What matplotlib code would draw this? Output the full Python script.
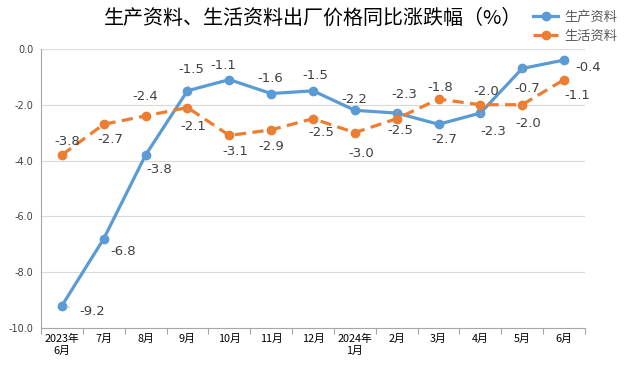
import numpy as np
import matplotlib.pyplot as plt

plt.rcParams['font.family'] = ['DejaVu Sans', 'Noto Sans CJK SC']

# Data
months = ['2023年\n6月', '7月', '8月', '9月', '10月', '11月', '12月',
          '2024年\n1月', '2月', '3月', '4月', '5月', '6月']
production = [-9.2, -6.8, -3.8, -1.5, -1.1, -1.6, -1.5, -2.2, -2.3, -2.7, -2.3, -0.7, -0.4]
living = [-3.8, -2.7, -2.4, -2.1, -3.1, -2.9, -2.5, -3.0, -2.5, -1.8, -2.0, -2.0, -1.1]

# Label offsets in pixels (dx, dy; dy positive = down) and leader-line flags
prod_off = [(30, 6), (19, 13), (14, 15), (4, -21), (-6, -14), (-1, -15), (2, -15),
            (-1, -11), (8, -19), (6, 15), (13, 18), (5, 20), (24, 7)]
prod_lead = [1, 0, 0, 1, 0, 0, 0, 0, 1, 0, 1, 1, 0]
liv_off = [(5, -13), (7, 15), (0, -19), (6, 19), (6, 16), (0, 17), (8, 14),
           (6, 21), (4, 12), (2, -12), (6, -13), (6, 19), (13, 16)]
liv_lead = [0, 0, 0, 1, 0, 1, 1, 1, 0, 0, 0, 1, 0]

blue = '#5B9BD5'
orange = '#ED7D31'
cjk = ['Noto Sans CJK SC', 'DejaVu Sans']

fig = plt.figure(figsize=(6.27, 3.65), dpi=100)
ax = fig.add_axes([0.0654, 0.1014, 0.8676, 0.7646])

x = np.arange(len(months))
ax.plot(x, production, color=blue, lw=2.3, marker='o', ms=6, label='生产资料', zorder=3)
ax.plot(x, living, color=orange, lw=2.3, ls=(0, (3.5, 2)), marker='o', ms=6,
        label='生活资料', zorder=3)


def add_labels(vals, offs, leads):
    for i, v in enumerate(vals):
        dx, dy = offs[i]
        # points = pixels * 0.72 at dpi 100
        kw = {}
        if leads[i]:
            kw['arrowprops'] = dict(arrowstyle='-', color='#A6A6A6', lw=0.6,
                                    shrinkA=5, shrinkB=3)
        ax.annotate(f'{v:.1f}', (i, v), xytext=(dx * 0.72, -dy * 0.72),
                    textcoords='offset points', ha='center', va='center',
                    fontsize=9.5, color='#404040', zorder=4, **kw)


add_labels(production, prod_off, prod_lead)
add_labels(living, liv_off, liv_lead)

ax.set_xlim(-0.5, len(months) - 0.5)
ax.set_ylim(-10, 0)
yt = np.arange(-10, 0.1, 2)
ax.set_yticks(yt)
ax.set_yticklabels([f'{t:.1f}' for t in yt], fontsize=7, color='#404040')
ax.tick_params(axis='y', length=0, pad=5.5)
ax.grid(axis='y', color='#D9D9D9', lw=0.8)

ax.set_xticks(np.arange(-0.5, len(months), 1))
ax.set_xticklabels([])
ax.set_xticks(x, minor=True)
ax.set_xticklabels(months, minor=True, fontsize=7.8, color='#000000',
                   family=cjk, linespacing=1.25)
ax.tick_params(axis='x', which='major', length=4, color='#A6A6A6', direction='out')
ax.tick_params(axis='x', which='minor', length=0, pad=4)

for s in ['top', 'right']:
    ax.spines[s].set_visible(False)
ax.spines['left'].set_color('#A6A6A6')
ax.spines['bottom'].set_color('#A6A6A6')
ax.set_axisbelow(True)

fig.text(0.5, 0.951, '生产资料、生活资料出厂价格同比涨跌幅（%）', ha='center', va='center',
         fontsize=14.4, family=cjk, color='#000000')

leg = fig.legend(loc='upper left', bbox_to_anchor=(533 / 627, 0.97), frameon=False,
                 prop={'family': cjk, 'size': 9.5}, borderpad=0, borderaxespad=0,
                 handlelength=1.9, labelspacing=0.45, handletextpad=0.5)
for t in leg.get_texts():
    t.set_color('#595959')

fig.savefig('out.png', dpi=100)
